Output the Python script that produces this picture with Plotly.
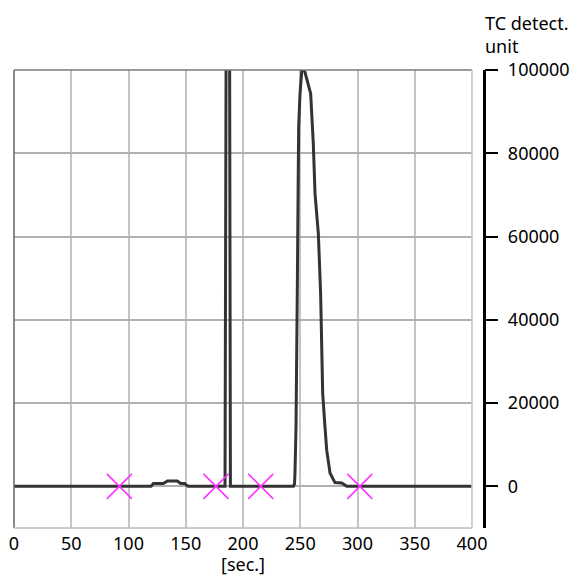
import plotly.graph_objects as go

# ---- data ----
time_s = [0, 119.7, 121.7, 130.4, 134, 142.6, 145.6, 149, 152,
          184.3, 187, 189,
          244, 245, 245.4, 246.3, 247.4, 248.6, 249.8, 251.3, 252.5, 254.1,
          259.1, 261.4, 262.9, 265.8, 267.8, 268.4, 269.6, 271.6, 273.1,
          276, 280.3, 286.2, 290.6, 400]
signal = [0, 0, 700, 700, 1300, 1300, 700, 700, 0,
          0, 300000, 0,
          0, 600, 3200, 14300, 46300, 86300, 94300, 99800, 100500, 99500,
          94300, 82300, 70300, 60700, 46300, 34300, 22300, 14300, 8700,
          3200, 900, 800, 0, 0]

marker_x = [92, 176.4, 215.5, 302]
marker_y = [0, 0, 0, 0]

x_ticks = [0, 50, 100, 150, 200, 250, 300, 350, 400]
y_ticks = [0, 20000, 40000, 60000, 80000, 100000]
x_title = "[sec.]"
y_title = "TC detect.<br>unit"

FONT = "Noto Sans"
FS = 18
OFF = 8  # page body margin
W, H = 579 - OFF, 576 - OFF
L = 14 - OFF
T = 69.5 - OFF
B = H - (528 - OFF)
R = W - (490 - OFF)
paper_w = W - L - R
x_dom_end = (472 - 14) / paper_w
y_axis_pos = (483.5 - 14) / paper_w

fig = go.Figure()
fig.add_trace(go.Scatter(
    x=time_s, y=signal, mode="lines",
    line=dict(color="#333333", width=3),
    showlegend=False, hoverinfo="skip"))
fig.add_trace(go.Scatter(
    x=marker_x, y=marker_y, mode="markers",
    marker=dict(symbol="x-thin", size=25, line=dict(color="#ff33ff", width=1.6)),
    showlegend=False, cliponaxis=False))

fig.update_layout(
    width=W, height=H,
    margin=dict(l=L, r=R, t=T, b=B, pad=0, autoexpand=False),
    paper_bgcolor="white", plot_bgcolor="white",
    font=dict(family=FONT, size=FS, color="black"),
    xaxis=dict(
        domain=[0, x_dom_end], range=[0, 400], automargin=False,
        tickvals=x_ticks, ticktext=[str(v) for v in x_ticks],
        showgrid=True, gridcolor="#c4c4c4", gridwidth=1.6,
        zeroline=False, showline=False, ticks="", ticklabelstandoff=3,
        tickfont=dict(family=FONT, size=FS, color="black"),
        title=dict(text=x_title, font=dict(family=FONT, size=FS, color="black"), standoff=0),
    ),
    yaxis=dict(
        range=[-10000, 100000], side="right", anchor="free", position=y_axis_pos,
        automargin=False,
        tickvals=y_ticks, ticktext=[str(v) for v in y_ticks],
        showgrid=True, gridcolor="#b0b0b0", gridwidth=1.6,
        zeroline=False, showline=True, linecolor="black", linewidth=2.5,
        ticks="outside", ticklen=13, tickwidth=2, tickcolor="black",
        ticklabelstandoff=6,
        tickfont=dict(family=FONT, size=FS, color="black"),
    ),
    shapes=[
        dict(type="line", xref="x domain", yref="y domain", x0=0, x1=0, y0=0, y1=1,
             line=dict(color="#6e6e6e", width=1.6)),
        dict(type="line", xref="x domain", yref="y domain", x0=0, x1=1, y0=1, y1=1,
             line=dict(color="#7a7a7a", width=1.6)),
        dict(type="line", xref="x domain", yref="y domain", x0=0, x1=1, y0=0, y1=0,
             line=dict(color="#bdbdbd", width=1.6)),
        dict(type="line", xref="x domain", yref="y domain", x0=1, x1=1, y0=0, y1=1,
             line=dict(color="#c4c4c4", width=1.6)),
    ],
    annotations=[
        dict(text=y_title, xref="paper", yref="paper", x=y_axis_pos, y=1,
             xanchor="left", yanchor="bottom", align="left", showarrow=False,
             yshift=10, xshift=-1,
             font=dict(family=FONT, size=FS, color="black")),
    ],
)

fig.write_html("out.html")
